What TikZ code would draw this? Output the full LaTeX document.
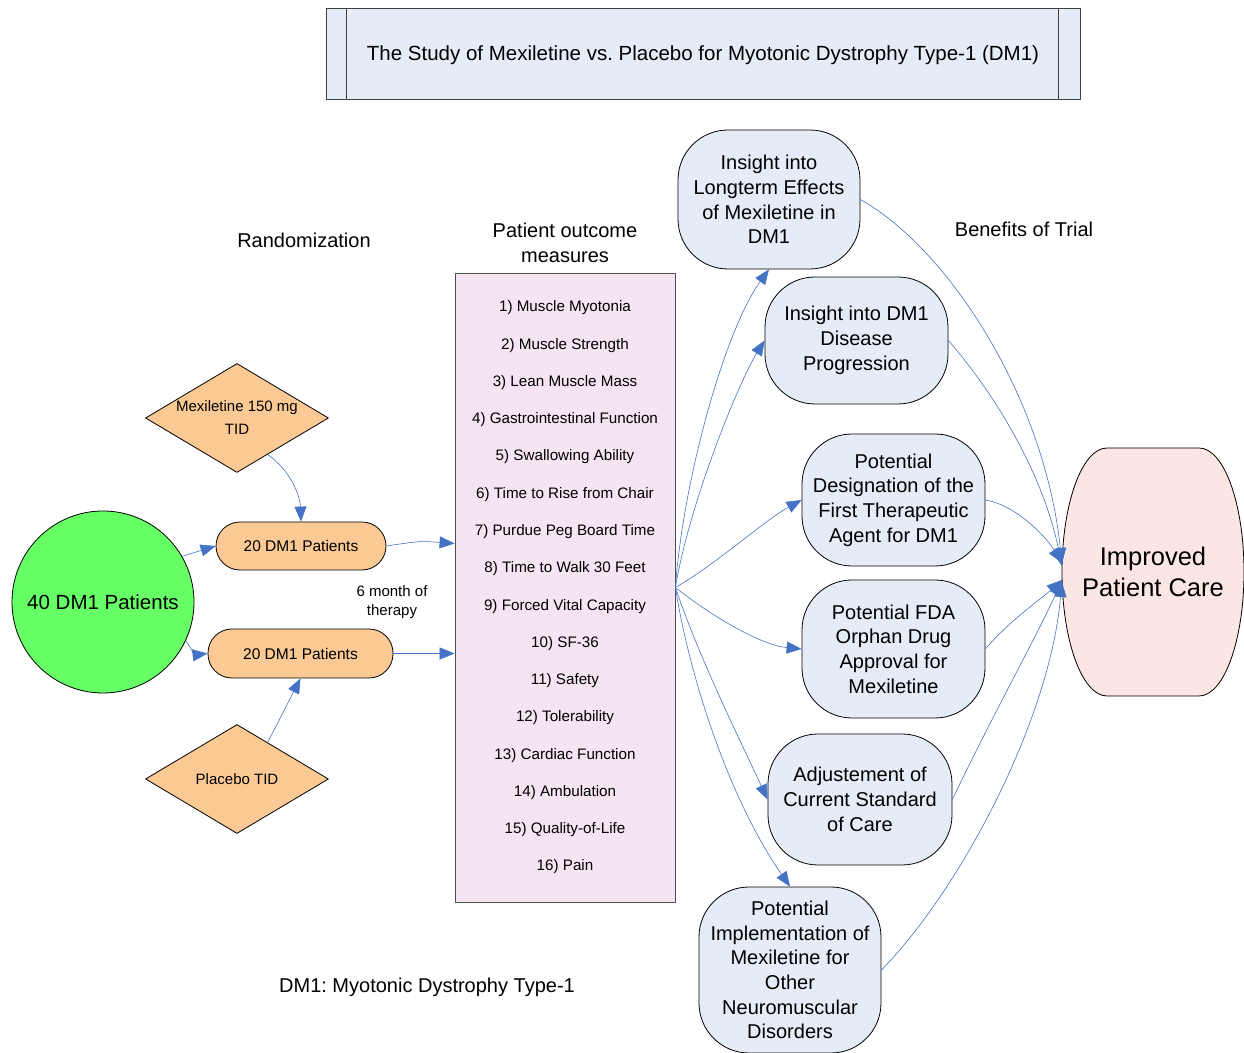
\documentclass[tikz,border=0pt]{standalone}
\usepackage{fontspec}
\setmainfont{Liberation Sans}
\usepackage{tikz}
\usetikzlibrary{arrows.meta,shapes}
\frenchspacing
\definecolor{titleblue}{HTML}{E6ECF7}
\definecolor{bubbleblue}{HTML}{E6ECF7}
\definecolor{peach}{HTML}{FBC993}
\definecolor{measurepink}{HTML}{F5E4F2}
\definecolor{carepink}{HTML}{FBE6E3}
\definecolor{dmgreen}{HTML}{66FF66}
\definecolor{arrowblue}{HTML}{4472C4}

\begin{document}
\begin{tikzpicture}[>={Triangle[length=15bp,width=12bp]},line join=bevel,
  every node/.style={align=center,font=\fontsize{20bp}{24.7bp}\selectfont},
  blueline/.style={->,draw=arrowblue,line width=0.6bp},
  bubble/.style={draw,fill=bubbleblue,rounded corners=50bp,minimum width=182bp,inner sep=1bp,line width=0.8bp},
  pill/.style={draw,fill=peach,rounded corners=24bp,minimum height=48bp,font=\fontsize{15.5bp}{19bp}\selectfont,line width=0.8bp},
  dmd/.style={draw,diamond,fill=peach,aspect=1.68,minimum width=183bp,minimum height=109bp,inner sep=0bp,font=\fontsize{15bp}{23bp}\selectfont,line width=0.8bp},
]
\useasboundingbox (0bp,0bp) rectangle (1244bp,1053bp);
%%
\node (title) at (703.0bp,999.5bp) [draw=black!75,fill=titleblue,minimum width=754bp,minimum height=91bp,line width=0.8bp,text depth=1bp,font=\fontsize{20.5bp}{24bp}\selectfont] {The Study of Mexiletine vs. Placebo for Myotonic Dystrophy Type-1 (DM1)};
  \draw [black!75,line width=0.8bp] ([xshift=21bp]title.north west) -- ([xshift=21bp]title.south west);
  \draw [black!75,line width=0.8bp] ([xshift=-22bp]title.north east) -- ([xshift=-22bp]title.south east);
  \node (rand) at (304.0bp,813.0bp) {Randomization};
  \node (pom) at (565.0bp,810.0bp) {Patient outcome\\measures};
  \node (benefits) at (1024.0bp,824.0bp) {Benefits of Trial};
  \node (abbrev) at (427.0bp,66.0bp) {DM1: Myotonic Dystrophy Type-1};
%
\node (dm40) at (103.0bp,451.0bp) [draw,circle,fill=dmgreen,minimum size=182bp,inner sep=0bp,line width=0.8bp,font=\fontsize{20.5bp}{24bp}\selectfont] {40 DM1 Patients};
  \node (mex) at (237.0bp,635.0bp) [dmd] {\makebox[0pt]{Mexiletine 150 mg}\\\makebox[0pt]{TID}};
  \node (plc) at (237.0bp,274.0bp) [dmd] {\makebox[0pt]{Placebo TID}};
  \node (pill1) at (301.0bp,507.0bp) [pill,minimum width=170bp] {20 DM1 Patients};
  \node (pill2) at (300.5bp,399.5bp) [pill,minimum width=185bp,minimum height=49bp] {20 DM1 Patients};
  \node (therapy) at (392.0bp,451.0bp) [font=\fontsize{15bp}{19bp}\selectfont] {6 month of\\therapy};
  \node (outcomes) at (565.0bp,465.5bp) [draw=black!70,fill=measurepink,minimum width=220bp,minimum height=629bp,line width=0.8bp,font=\fontsize{15.2bp}{37.27bp}\selectfont] {1) Muscle Myotonia\\2) Muscle Strength\\3) Lean Muscle Mass\\4) Gastrointestinal Function\\5) Swallowing Ability\\6) Time to Rise from Chair\\7) Purdue Peg Board Time\\8) Time to Walk 30 Feet\\9) Forced Vital Capacity\\10) SF-36\\11) Safety\\12) Tolerability\\13) Cardiac Function\\14) Ambulation\\15) Quality-of-Life\\16) Pain};
%
\node (b1) at (769.0bp,853.5bp) [bubble,minimum height=139bp] {Insight into\\Longterm Effects\\of Mexiletine in\\DM1};
  \node (b2) at (856.5bp,712.5bp) [bubble,minimum width=183bp,minimum height=127bp] {Insight into DM1\\Disease\\Progression};
  \node (b3) at (893.5bp,553.0bp) [bubble,minimum width=183bp,minimum height=132bp] {Potential\\Designation of the\\First Therapeutic\\Agent for DM1};
  \node (b4) at (893.5bp,404.0bp) [bubble,minimum width=183bp,minimum height=138bp] {Potential FDA\\Orphan Drug\\Approval for\\Mexiletine};
  \node (b5) at (860.0bp,253.5bp) [bubble,minimum width=184bp,minimum height=131bp] {Adjustement of\\Current Standard\\of Care};
  \node (b6) at (790.0bp,83.0bp) [bubble,minimum height=166bp] {Potential\\Implementation of\\Mexiletine for\\Other\\Neuromuscular\\Disorders};
%
\draw [fill=carepink,line width=0.8bp] (1107bp,605bp) -- (1199bp,605bp) arc[start angle=90,end angle=-90,x radius=45bp,y radius=124bp] -- (1107bp,357bp) arc[start angle=270,end angle=90,x radius=45bp,y radius=124bp] -- cycle;
  \node (ipc) at (1153.0bp,481.0bp) [minimum width=182bp,minimum height=248bp,font=\fontsize{25.5bp}{31bp}\selectfont] {Improved\\Patient Care};
%
\draw [blueline] (dm40.30) -- (pill1.west);
  \draw [blueline] (dm40.-25) ..controls (195.0bp,398.0bp) .. (pill2.west);
  \draw [blueline] (mex.-50) ..controls (290.0bp,583.0bp) and (300.0bp,558.0bp) .. (pill1.north);
  \draw [blueline] (plc.50) -- (pill2.south);
  \draw [blueline] (pill1.east) ..controls (420.0bp,512.0bp) .. ([yshift=44bp]outcomes.west);
  \draw [blueline] (pill2.east) -- (outcomes.west |- pill2.east);
  \draw [blueline] (outcomes.east) ..controls (683.0bp,573.0bp) and (725.0bp,723.0bp) .. (b1.south);
  \draw [blueline] (outcomes.east) ..controls (690.0bp,553.0bp) and (740.0bp,673.0bp) .. (b2.west);
  \draw [blueline] (outcomes.east) ..controls (715.0bp,488.0bp) and (765.0bp,533.0bp) .. (b3.west);
  \draw [blueline] (outcomes.east) ..controls (710.0bp,438.0bp) and (760.0bp,408.0bp) .. (b4.west);
  \draw [blueline] (outcomes.east) ..controls (700.0bp,393.0bp) and (740.0bp,313.0bp) .. (b5.west);
  \draw [blueline] (outcomes.east) ..controls (690.0bp,373.0bp) and (730.0bp,253.0bp) .. (b6.north);
  \draw [blueline] (b1.east) ..controls (950.0bp,803.0bp) and (1045.0bp,653.0bp) .. ([yshift=9bp]ipc.west);
  \draw [blueline] (b2.east) ..controls (1000.0bp,653.0bp) and (1045.0bp,573.0bp) .. ([yshift=6bp]ipc.west);
  \draw [blueline] (b3.east) ..controls (1015.0bp,548.0bp) and (1045.0bp,518.0bp) .. ([yshift=9bp]ipc.west);
  \draw [blueline] (b4.east) ..controls (1010.0bp,433.0bp) and (1040.0bp,453.0bp) .. ([yshift=-8bp]ipc.west);
  \draw [blueline] (b5.east) ..controls (990.0bp,333.0bp) and (1040.0bp,423.0bp) .. ([yshift=-8bp]ipc.west);
  \draw [blueline] (b6.east) ..controls (960.0bp,163.0bp) and (1050.0bp,333.0bp) .. ([yshift=-10bp]ipc.west);
%
\end{tikzpicture}
\end{document}
